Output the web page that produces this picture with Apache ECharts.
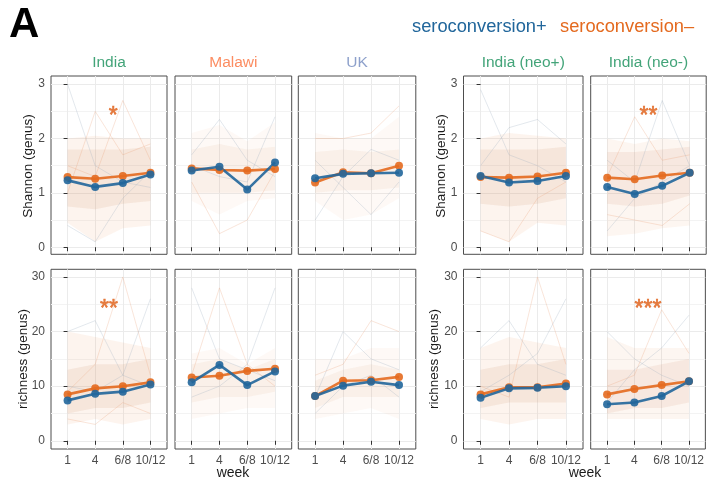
<!DOCTYPE html>
<html>
<head>
<meta charset="utf-8">
<script src="https://cdn.jsdelivr.net/npm/echarts@6/dist/echarts.min.js"></script>
<style>html,body{margin:0;padding:0;background:#fff}#main{width:707px;height:482px}</style>
</head>
<body>
<div id="main"></div>
<script>
// data
var weeks = ['1', '4', '6/8', '10/12'];
var sites = ['India', 'Malawi', 'UK', 'India (neo+)', 'India (neo-)'];

// group means (seroconversion+ / seroconversion-)
var shannonPos = [[1.23,1.11,1.18,1.34],[1.41,1.48,1.06,1.56],[1.27,1.35,1.36,1.37],[1.31,1.19,1.22,1.31],[1.11,0.98,1.13,1.37]];
var shannonNeg = [[1.29,1.26,1.31,1.37],[1.45,1.42,1.41,1.44],[1.19,1.38,1.36,1.50],[1.29,1.28,1.30,1.37],[1.28,1.25,1.32,1.37]];
var richnessPos = [[7.4,8.6,9.0,10.3],[10.7,13.9,10.2,12.7],[8.2,10.1,10.8,10.2],[7.9,9.6,9.7,10.0],[6.7,7.0,8.2,10.9]];
var richnessNeg = [[8.5,9.6,10.0,10.7],[11.6,11.9,12.8,13.2],[8.2,11.0,11.1,11.7],[8.5,9.8,9.8,10.5],[8.5,9.5,10.2,10.9]];

// spread of the individual traces (outer and dense core)
var shannonLo = [[0.45,0.1,0.35,0.4],[0.85,0.6,0.85,0.9],[0.85,0.5,0.6,0.9],[0.3,0.1,0.45,0.4],[0.2,0.25,0.35,0.4]];
var shannonHi = [[2.0,2.05,2.0,2.0],[2.1,2.25,1.95,2.3],[2.1,2.0,2.0,2.4],[2.0,2.1,2.05,2.0],[2.0,1.9,2.0,1.95]];
var shannonCoreLo = [[0.75,0.7,0.8,0.85],[1.0,1.0,1.0,1.05],[1.0,1.05,1.05,1.1],[0.8,0.75,0.8,0.9],[0.8,0.75,0.8,0.95]];
var shannonCoreHi = [[1.8,1.8,1.8,1.85],[1.8,1.9,1.8,1.85],[1.75,1.8,1.75,1.8],[1.8,1.8,1.8,1.85],[1.75,1.75,1.8,1.85]];
var richnessLo = [[3,4,3,4],[4,5,6,6],[4,5,6,4],[4,3,4,4],[4,4,4,4]];
var richnessHi = [[20,19,18,17],[16,17,14,17],[15,15,17,17],[17,19,18,17],[19,17,17,17]];
var richnessCoreLo = [[5,6,6,7],[7,8,8,9],[6,8,8,8],[6,7,7,7],[5,6,6,7]];
var richnessCoreHi = [[13,14,14,15],[14,15,13,15],[11,13,14,13],[13,14,14,15],[13,13,14,15]];

// a few single subjects that stand out
var shannonTraces = [
  [[3.0,1.5,1.2,1.1],[1.0,2.5,1.7,1.9],[0.4,0.1,0.9,1.4],[1.5,1.3,2.7,1.6]],
  [[1.7,2.35,1.6,1.3],[1.2,0.25,0.5,1.4],[1.5,1.3,1.2,2.4]],
  [[0.5,1.3,1.8,1.6],[2.0,2.0,2.1,2.6],[1.6,1.1,0.6,1.2]],
  [[2.9,1.7,1.5,1.2],[0.3,0.1,0.9,1.2],[1.5,2.2,2.35,1.9]],
  [[0.3,0.9,1.2,1.5],[1.3,2.4,1.6,1.7],[1.6,1.2,2.7,1.5],[0.6,0.5,0.4,0.8]]
];
var richnessTraces = [
  [[20,22,12,10],[9,14,30,12],[10,9,12,26],[4,3,7,5]],
  [[28,15,13,11],[12,28,14,10],[8,10,14,28]],
  [[8,20,15,13],[12,14,22,20],[5,10,12,8]],
  [[17,22,14,12],[10,8,30,14],[9,12,16,26]],
  [[20,15,12,10],[10,12,24,16],[7,13,17,23]]
];

var shannonStars = ['*', '', '', '', '**'];
var shannonStarAt = [[1.65,2.5], null, null, null, [1.5,2.5]];
var richnessStars = ['**', '', '', '', '***'];
var richnessStarAt = [[1.5,25], null, null, null, [1.5,25]];

var FONT = 'Liberation Sans, Arial, sans-serif';
var BLUE = '#21669b', ORANGE = '#e46a1f';
var siteColors = ['#43a479', '#fc8d62', '#8da0cb', '#43a479', '#43a479'];
var hazeAlpha = [1, 0.55, 0.55, 1, 0.85];

var cols = [[51,116],[175,116.7],[298.3,117.5],[463.5,119.5],[590.7,115.5]];
var rows = [[76,178.3],[269.3,179.7]];

var metrics = [
  {pos: shannonPos, neg: shannonNeg, lo: shannonLo, hi: shannonHi, clo: shannonCoreLo, chi: shannonCoreHi,
   traces: shannonTraces, stars: shannonStars, starAt: shannonStarAt, min: -0.13, max: 3.15, major: [0,1,2,3], minor: [0.5,1.5,2.5]},
  {pos: richnessPos, neg: richnessNeg, lo: richnessLo, hi: richnessHi, clo: richnessCoreLo, chi: richnessCoreHi,
   traces: richnessTraces, stars: richnessStars, starAt: richnessStarAt, min: -1.5, max: 31.4, major: [0,10,20,30], minor: [5,15,25]}
];

var chart = echarts.init(document.getElementById('main'));

function pts(arr) { return arr.map(function (v, i) { return [i, v]; }); }

// band between two 4-point profiles, drawn through the axis scales
function band(lo, hi, fill, op, ax) {
  return Object.assign({type: 'custom', silent: true, data: [[0]],
    renderItem: function (params, api) {
      var p = [];
      lo.forEach(function (v, i) { p.push(api.coord([i, v])); });
      for (var i = hi.length - 1; i >= 0; i--) p.push(api.coord([i, hi[i]]));
      return {type: 'polygon', shape: {points: p}, style: {fill: fill, opacity: op}};
    }}, ax);
}

var grid = [], xAxis = [], yAxis = [], series = [];

for (var r = 0; r < 2; r++) {
  var m = metrics[r];
  for (var c = 0; c < 5; c++) {
    var g = r * 5 + c;
    var left = (c === 0 || c === 3);
    grid.push({left: cols[c][0], top: rows[r][0], width: cols[c][1], height: rows[r][1],
      show: true, borderColor: '#4d4d4d', borderWidth: 1, backgroundColor: 'transparent'});
    xAxis.push({gridIndex: g, type: 'value', min: -0.6, max: 3.6,
      axisLine: {show: false},
      axisTick: {show: true, customValues: [0,1,2,3], length: 4, lineStyle: {color: '#333'}},
      axisLabel: {show: r === 1, customValues: [0,1,2,3], margin: 6, color: '#4d4d4d', fontSize: 12, fontFamily: FONT,
        formatter: function (v) { return weeks[Math.round(v)]; }},
      splitLine: {show: true, lineStyle: {color: '#ebebeb', width: 1}}});
    yAxis.push({gridIndex: g, type: 'value', min: m.min, max: m.max,
      axisLine: {show: false},
      axisTick: {show: left, customValues: m.major, length: 4, lineStyle: {color: '#333'}},
      axisLabel: {show: left, customValues: m.major, margin: 6, color: '#4d4d4d', fontSize: 12, fontFamily: FONT},
      splitLine: {show: true, lineStyle: {color: '#ebebeb', width: 1}}});
    yAxis.push({gridIndex: g, type: 'value', min: m.min, max: m.max, position: 'left',
      axisLine: {show: false},
      axisTick: {show: false, customValues: m.minor},
      axisLabel: {show: false},
      splitLine: {show: true, lineStyle: {color: '#f3f3f3', width: 1}}});

    var ax = {xAxisIndex: g, yAxisIndex: 2 * g};
    series.push(band(m.lo[c], m.hi[c], '#e9915a', 0.10 * hazeAlpha[c], ax));
    series.push(band(m.clo[c], m.chi[c], '#e9915a', 0.12 * hazeAlpha[c], ax));
    series.push(band(m.clo[c], m.chi[c], '#9aabbd', 0.05 * hazeAlpha[c], ax));
    m.traces[c].forEach(function (t, k) {
      series.push(Object.assign({type: 'line', data: pts(t), symbol: 'none', silent: true,
        lineStyle: {color: k % 2 ? '#e9a27a' : '#9aabbd', width: 0.8, opacity: 0.35}}, ax));
    });
    series.push(Object.assign({type: 'line', data: pts(m.neg[c]), symbol: 'circle', symbolSize: 8,
      lineStyle: {color: ORANGE, width: 2.6, opacity: 0.9}, itemStyle: {color: ORANGE, opacity: 0.9}}, ax));
    series.push(Object.assign({type: 'line', data: pts(m.pos[c]), symbol: 'circle', symbolSize: 8,
      lineStyle: {color: BLUE, width: 2.6, opacity: 0.9}, itemStyle: {color: BLUE, opacity: 0.9}}, ax));
    if (m.stars[c]) {
      series.push(Object.assign({type: 'scatter', data: [m.starAt[c]], symbolSize: 1, itemStyle: {color: 'transparent'},
        label: {show: true, position: 'inside', formatter: m.stars[c], color: '#e0621a', fontSize: 23,
          fontFamily: FONT, textBorderColor: '#e0621a', textBorderWidth: 0.6, offset: [0, 5]}}, ax));
    }
  }
}

function txt(x, y, text, size, color, extra) {
  return Object.assign({type: 'text', x: x, y: y,
    style: {text: text, fontSize: size, fontFamily: FONT, fill: color, align: 'center', verticalAlign: 'middle'}}, extra || {});
}

var graphic = [
  {type: 'text', x: 9, y: 25, style: {text: 'A', fontSize: 42, fontWeight: 'bold', fontFamily: FONT, fill: '#000', verticalAlign: 'middle'}},
  {type: 'text', x: 412, y: 27, style: {text: 'seroconversion+', fontSize: 18.3, fontFamily: FONT, fill: BLUE, verticalAlign: 'middle'}},
  {type: 'text', x: 560, y: 27, style: {text: 'seroconversion\u2013', fontSize: 18.3, fontFamily: FONT, fill: ORANGE, verticalAlign: 'middle'}},
  txt(28, 166, 'Shannon (genus)', 13.5, '#1a1a1a', {rotation: Math.PI / 2}),
  txt(441, 166, 'Shannon (genus)', 13.5, '#1a1a1a', {rotation: Math.PI / 2}),
  txt(23, 359, 'richness (genus)', 13.5, '#1a1a1a', {rotation: Math.PI / 2}),
  txt(434.5, 359, 'richness (genus)', 13.5, '#1a1a1a', {rotation: Math.PI / 2}),
  txt(233, 473, 'week', 14, '#1a1a1a'),
  txt(585, 473, 'week', 14, '#1a1a1a')
];
sites.forEach(function (s, c) {
  graphic.push(txt(cols[c][0] + cols[c][1] / 2, 63, s, 15.5, siteColors[c]));
});

chart.setOption({animation: false, grid: grid, xAxis: xAxis, yAxis: yAxis, series: series, graphic: graphic});
</script>
</body>
</html>
